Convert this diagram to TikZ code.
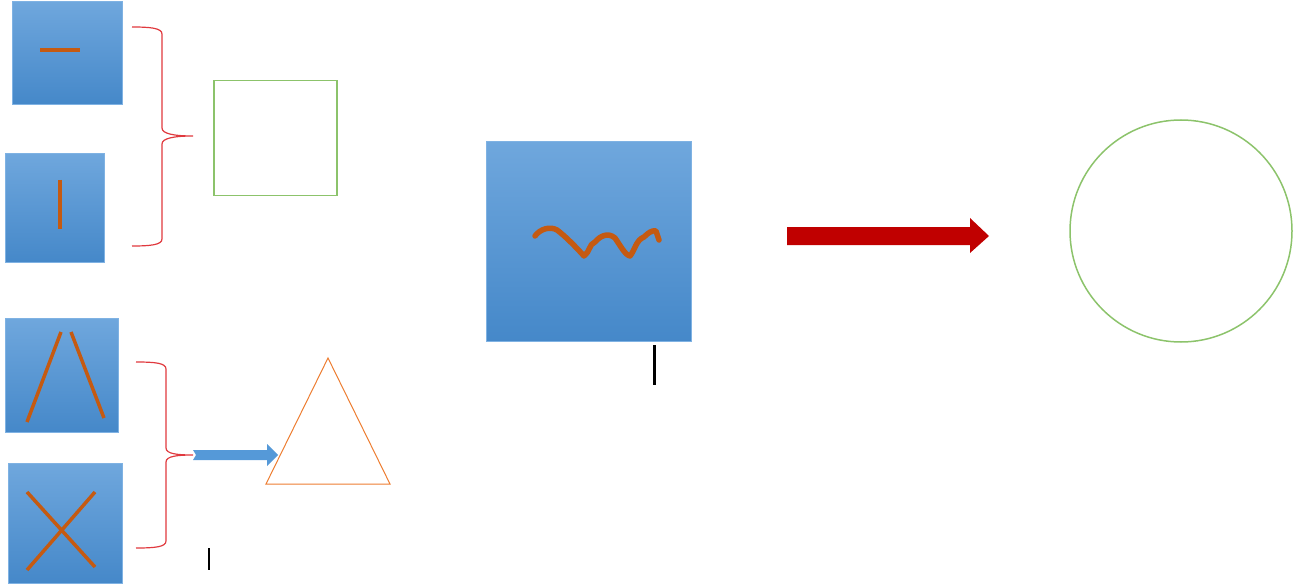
\documentclass[tikz,border=0pt]{standalone}
\usetikzlibrary{calc}
\definecolor{bluetop}{HTML}{6FA7DD}
\definecolor{bluebot}{HTML}{4588C9}
\definecolor{blueedge}{HTML}{7FB2E3}
\definecolor{strokeor}{HTML}{C55A11}
\definecolor{trior}{HTML}{ED7D31}
\definecolor{braced}{HTML}{E0393E}
\definecolor{grn}{HTML}{8CC36B}
\definecolor{darkred}{HTML}{C00000}
\definecolor{arrowblue}{HTML}{5599D8}
\tikzset{
  bluebox/.style={draw=blueedge, line width=0.8pt, top color=bluetop, bottom color=bluebot, inner sep=0pt, anchor=north west},
  mark stroke/.style={draw=strokeor, line width=3.5pt},
  bracestyle/.style={draw=braced, line width=1.2pt},
  greenshape/.style={draw=grn, line width=1.5pt},
  blackbar/.style={draw=black, line width=3pt}
}
\begin{document}
\begin{tikzpicture}[x=1pt,y=-1pt]
\useasboundingbox (0,0) rectangle (1298,588);
% boxes
\node[bluebox, minimum width=110pt, minimum height=103pt] (b1) at (12,1) {};
\node[bluebox, minimum width=99pt, minimum height=109pt] (b2) at (5,153) {};
\node[bluebox, minimum width=113pt, minimum height=114pt] (b3) at (5,318) {};
\node[bluebox, minimum width=114pt, minimum height=120pt] (b4) at (8,463) {};
\node[bluebox, minimum width=205pt, minimum height=200pt] (big) at (486,141) {};
% strokes inside boxes
\draw[mark stroke] (40,50) -- (80,50);
\draw[mark stroke] (60,180) -- (60,229);
\draw[mark stroke] (27,422) -- (61,332);
\draw[mark stroke] (71,332) -- (104,418);
\draw[mark stroke] (27,492) -- (95,567);
\draw[mark stroke] (95,492) -- (27,570);
\draw[draw=strokeor, line width=5.5pt, line cap=round, line join=round]
  (535,236) .. controls (540,229) and (550,226) .. (557,230)
  .. controls (565,236) and (575,246) .. (584,256)
  .. controls (590,252) and (589,244) .. (595,242)
  .. controls (600,236) and (608,232) .. (615,238)
  .. controls (620,245) and (625,255) .. (630,256)
  .. controls (635,250) and (636,240) .. (644,237)
  .. controls (648,233) and (652,230) .. (656,231)
  -- (659,240);
% braces
\draw[bracestyle] (132,27) .. controls (150,27) and (162,28) .. (162,34)
  -- (162,128) .. controls (162,134) and (175,136) .. (193,136)
  .. controls (175,136) and (162,138) .. (162,144)
  -- (162,239) .. controls (162,245) and (150,246) .. (132,246);
\draw[bracestyle] (136,362) .. controls (155,362) and (166,363) .. (166,369)
  -- (166,448) .. controls (166,454) and (178,455) .. (193,455)
  .. controls (178,455) and (166,456) .. (166,462)
  -- (166,541) .. controls (166,547) and (155,548) .. (136,548);
% green square and circle
\node[greenshape, minimum width=123pt, minimum height=115pt, inner sep=0pt, anchor=north west] (sq) at (213,80) {};
\node[greenshape, circle, minimum size=222pt, inner sep=0pt] (circ) at (1181,231) {};
% triangle
\coordinate (ta) at (328,358);
\coordinate (tl) at (266,484);
\coordinate (tr) at (390,484);
\draw[draw=trior, line width=1pt, line join=miter] (ta) -- (tl) -- (tr) -- cycle;
% blue arrow
\fill[arrowblue] (193,450) -- (267,450) -- (267,444) -- (278,455) -- (267,466) -- (267,460) -- (193,460) -- (196,455) -- cycle;
% red arrow
\fill[darkred] (787,227) -- (970,227) -- (970,218) -- (989,236) -- (970,253) -- (970,245) -- (787,245) -- cycle;
% black bars
\draw[blackbar] (654,345) -- (654,385);
\draw[draw=black, line width=1.8pt] (209,548) -- (209,570);
\end{tikzpicture}
\end{document}
